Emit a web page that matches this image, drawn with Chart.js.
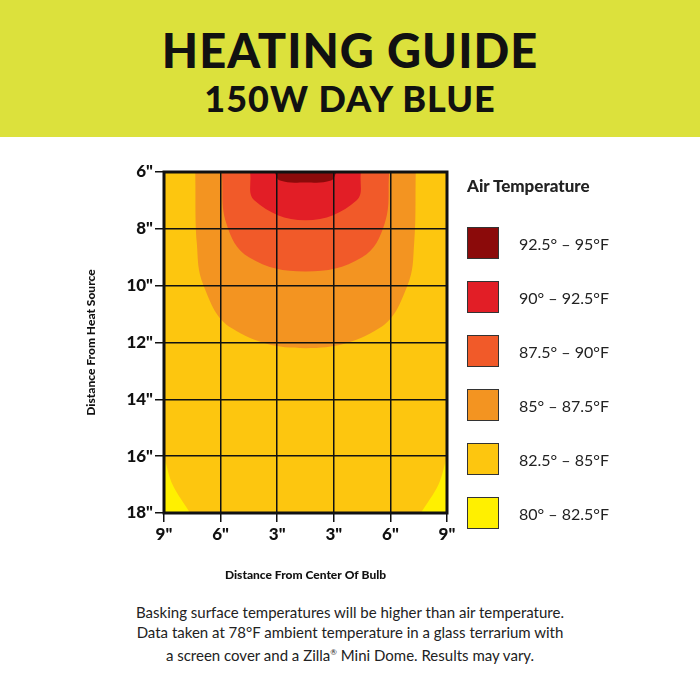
<!DOCTYPE html>
<html><head><meta charset="utf-8">
<script src="https://cdn.jsdelivr.net/npm/chart.js@4/dist/chart.umd.min.js"></script>
<style>
body{margin:0;width:700px;height:700px;background:#fff;font-family:Lato,"DejaVu Sans",sans-serif;position:relative;overflow:hidden}
#band{position:absolute;left:0;top:0;width:700px;height:137px;background:#DCE13C}
#t1{position:absolute;top:22px;width:700px;text-align:center;font-weight:900;font-size:47px;letter-spacing:1px;color:#111}
#t2{position:absolute;top:76px;width:700px;text-align:center;font-weight:900;font-size:36px;letter-spacing:1px;color:#111}
#cw{position:absolute;left:80px;top:140px;width:390px;height:446px}
#leg{position:absolute;left:467px;top:175px;font-size:16px;color:#222}
#leg .h{font-weight:900;font-size:17px;margin-bottom:20px}
.it{display:flex;align-items:center;height:54px}
.sw{width:32px;height:32px;margin-right:20px;border:1px solid #333;box-sizing:border-box}
#foot{position:absolute;top:602px;width:700px;text-align:center;font-size:15px;line-height:20px;color:#222}
</style></head><body>
<div id="band"></div>
<div id="t1">HEATING GUIDE</div>
<div id="t2">150W DAY BLUE</div>
<div id="cw"><canvas id="c"></canvas></div>
<div id="leg"><div class="h">Air Temperature</div><div id="items"></div></div>
<div id="foot">Basking surface temperatures will be higher than air temperature.<br>Data taken at 78°F ambient temperature in a glass terrarium with<br>a screen cover and a Zilla<sup style="font-size:8px">®</sup> Mini Dome. Results may vary.</div>
<script>
const xTickLabels=['9"','6"','3"','3"','6"','9"'];
const yTickLabels=['6"','8"','10"','12"','14"','16"','18"'];
const legendLabels=['92.5°–95°F','90°–92.5°F','87.5°–90°F','85°–87.5°F','82.5°–85°F','80°–82.5°F'];
const colors=['#8B0A0A','#E21E26','#F15A29','#F39421','#FDC60F','#FFF000'];
// contour boundaries (x in grid columns 0..5, y in inches)
const zone85=[{x:0.55,y:6},{x:0.58,y:8.5},{x:0.7,y:10},{x:1.2,y:11.5},{x:2.5,y:12.2},{x:3.8,y:11.5},{x:4.3,y:10},{x:4.42,y:8.5},{x:4.45,y:6}];
const zone875=[{x:1.02,y:6},{x:1.1,y:7.8},{x:1.5,y:9},{x:2.5,y:9.5},{x:3.5,y:9},{x:3.9,y:7.8},{x:3.98,y:6}];
const zone90=[{x:1.52,y:6},{x:1.6,y:7},{x:2.5,y:7.7},{x:3.4,y:7},{x:3.48,y:6}];
const zone925=[{x:1.95,y:6},{x:2.05,y:6.3},{x:2.5,y:6.37},{x:2.95,y:6.3},{x:3.05,y:6}];
const yellowL=[{x:0,y:16},{x:0.15,y:17},{x:0.46,y:18}];
const yellowR=[{x:5,y:16},{x:4.85,y:17},{x:4.54,y:18}];

document.getElementById('items').innerHTML=legendLabels.map((l,i)=>`<div class="it"><div class="sw" style="background:${colors[i]}"></div>${l.replace('–',' – ')}</div>`).join('');

const mk=(d,c,fv,o)=>({data:d,order:o,showLine:true,pointRadius:0,borderWidth:0,borderColor:c,backgroundColor:c,fill:{value:fv},tension:0.4});
const bg={id:'bg',beforeDatasetsDraw(ch){const a=ch.chartArea,x=ch.ctx;x.save();x.fillStyle=colors[4];x.fillRect(a.left,a.top,a.width,a.height);x.restore();},
afterDraw(ch){const a=ch.chartArea,x=ch.ctx;x.save();x.strokeStyle='#111';x.lineWidth=3;x.strokeRect(a.left,a.top,a.width,a.height);x.restore();}};
new Chart(document.getElementById('c'),{type:'scatter',
data:{datasets:[mk(zone85,colors[3],6,10),mk(zone875,colors[2],6,8),mk(zone90,colors[1],6,6),mk(zone925,colors[0],6,4),
{...mk(yellowL,colors[5],18,2),tension:0.3},{...mk(yellowR,colors[5],18,2),tension:0.3}]},
plugins:[bg],
options:{responsive:true,maintainAspectRatio:false,animation:false,layout:{padding:{top:32,right:23}},
plugins:{legend:{display:false},tooltip:{enabled:false}},
scales:{
x:{type:'linear',min:0,max:5,afterFit(s){s.height=73},afterBuildTicks(s){s.ticks=[0,1,2,3,4,5].map(v=>({value:v}))},
ticks:{callback:(v,i)=>xTickLabels[i],color:'#111',font:{family:'Lato',weight:'900',size:17},padding:2},
grid:{color:'#111',lineWidth:1.5,tickLength:9,z:1},border:{display:false},
title:{display:true,text:'Distance From Center Of Bulb',color:'#111',font:{family:'Lato',weight:'900',size:12},padding:{top:4}}},
y:{type:'linear',min:6,max:18,reverse:true,afterFit(s){s.width=84},afterBuildTicks(s){s.ticks=[6,8,10,12,14,16,18].map(v=>({value:v}))},
ticks:{callback:(v,i)=>yTickLabels[i],color:'#111',font:{family:'Lato',weight:'900',size:17},padding:2},
grid:{color:'#111',lineWidth:1.5,tickLength:9,z:1},border:{display:false},
title:{display:true,text:'Distance From Heat Source',color:'#111',font:{family:'Lato',weight:'900',size:12}}}}}});
</script></body></html>
